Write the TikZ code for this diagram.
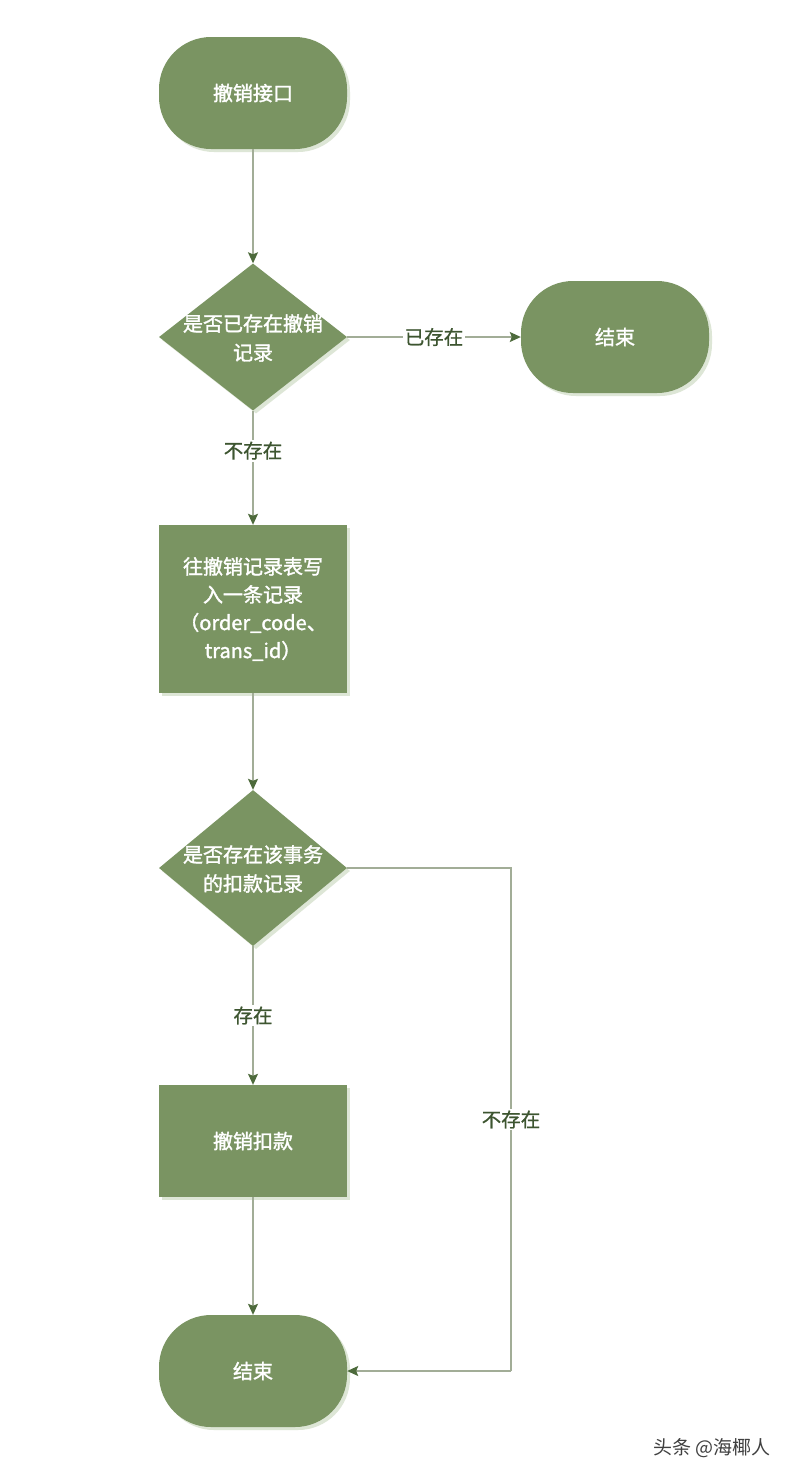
\documentclass[tikz,border=0pt]{standalone}
\usepackage{fontspec}
\setmainfont{Noto Sans CJK SC}
\newfontfamily\cjk{Noto Sans CJK SC}
\newfontfamily\cjkm{Noto Sans CJK SC}[FakeBold=1.6]
\newfontfamily\cjkl{Noto Sans CJK SC}[FakeBold=0.8]
\usetikzlibrary{shapes.geometric,arrows.meta,shadows}
\definecolor{boxfill}{HTML}{7A9462}
\definecolor{shadowcol}{HTML}{DDE6D6}
\definecolor{linecol}{HTML}{A2AD97}
\definecolor{arrowcol}{HTML}{4D6A3B}
\definecolor{labelcol}{HTML}{3D5530}
\tikzset{
  base/.style={fill=boxfill, draw=none, text=white, font=\cjkm\fontsize{20}{28}\selectfont, align=center,
    drop shadow={shadow xshift=3pt, shadow yshift=-3pt, fill=shadowcol, opacity=1}},
  term/.style={base, rounded corners=52pt, minimum width=188pt, minimum height=112pt, inner sep=0pt},
  procbox/.style={base, rectangle, minimum width=188pt, inner sep=0pt},
  dia/.style={base, diamond, minimum width=188pt, minimum height=147pt, inner sep=0pt},
  diatext/.style={text=white, font=\cjkm\fontsize{20}{29}\selectfont, align=center, inner sep=0pt},
  conn/.style={draw=linecol, line width=1.2pt, -{Stealth[length=11pt, width=10pt, inset=2pt, color=arrowcol]}},
  plain/.style={draw=linecol, line width=1.2pt},
  lbl/.style={fill=white, text=labelcol, font=\cjkl\fontsize{19.5}{22}\selectfont, inner sep=2pt}
}
\begin{document}
\begin{tikzpicture}[x=1pt,y=-1pt]
\useasboundingbox[fill=white] (0,0) rectangle (794,1478);

\node[term] (start) at (253,93) {撤销接口};
\node[dia] (d1) at (253,337) {};
\node[diatext] (d1t) at (253,338) {是否已存在撤销\\记录};
\node[term] (end1) at (615,337) {结束};
\node[procbox, minimum height=168pt] (p1) at (253,609) {往撤销记录表写\\入一条记录\\（order\_code、\\trans\_id）};
\node[dia, minimum height=156pt] (d2) at (253,868) {};
\node[diatext] (d2t) at (253,869) {是否存在该事务\\的扣款记录};
\node[procbox, minimum height=112pt] (p2) at (253,1141) {撤销扣款};
\node[term] (end2) at (253,1371) {结束};
\coordinate (c1) at (511,868);
\coordinate (c2) at (511,1371);

\draw[conn] (start.south) -- (d1.north);
\draw[conn] (d1.east) -- node[lbl]{已存在} (end1.west);
\draw[conn] (d1.south) -- node[lbl, pos=0.35]{不存在} (p1.north);
\draw[conn] (p1.south) -- (d2.north);
\draw[conn] (d2.south) -- node[lbl, pos=0.5]{存在} (p2.north);
\draw[conn] (p2.south) -- (end2.north);
\draw[plain] (d2.east) -- (c1) -- node[lbl, pos=0.50]{不存在} (c2);
\draw[conn] (c2) -- (end2.east);

\node[text=black!75, font=\cjk\fontsize{19}{22}\selectfont, inner sep=0pt] (wm) at (712,1448) {头条 @海椰人};
\end{tikzpicture}
\end{document}
